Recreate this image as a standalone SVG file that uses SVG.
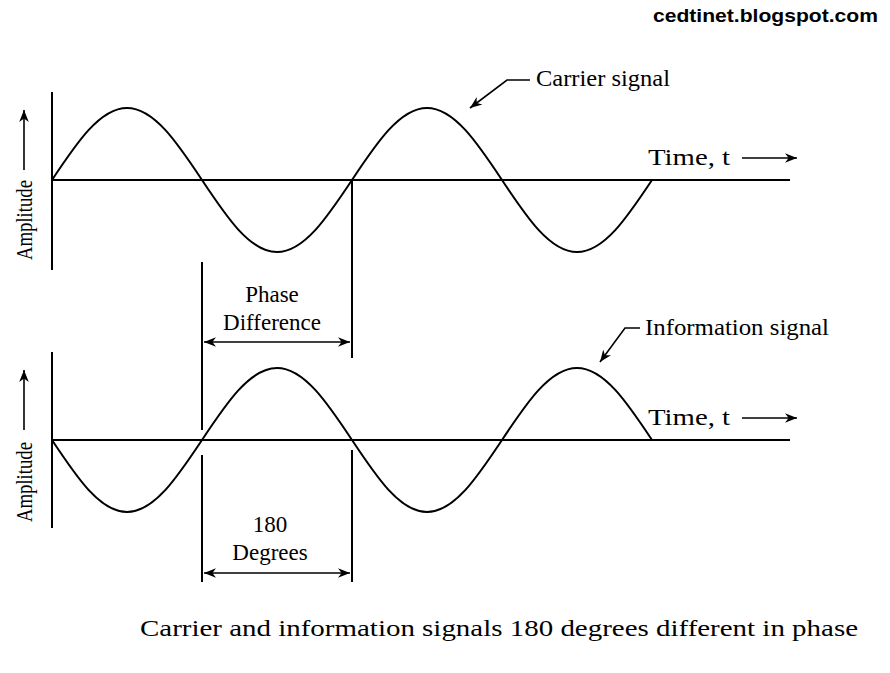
<svg xmlns="http://www.w3.org/2000/svg" width="890" height="673" viewBox="0 0 890 673">
<defs>
<marker id="ah" viewBox="0 0 10 10" refX="10" refY="5" markerWidth="12" markerHeight="12" markerUnits="userSpaceOnUse" orient="auto-start-reverse"><path d="M0,1 L10,5 L0,9 L3,5 Z" fill="#000"/></marker>
</defs>
<style>
.l{stroke:#000;stroke-width:2;fill:none}
.t{font-family:"Liberation Serif",serif;font-size:23px;fill:#000}
</style>
<rect width="890" height="673" fill="#fff"/>
<text x="653" y="22" textLength="225" lengthAdjust="spacingAndGlyphs" style="font-family:'Liberation Sans',sans-serif;font-weight:bold;font-size:18px">cedtinet.blogspot.com</text>
<g id="top-wave">
<path class="l" d="M52,92 V270 M52,180 H790"/>
<path class="l" d="M52,180 c24.5,-36.9 47.9,-72 75,-72 s50.5,35.1 75,72 s47.9,72 75,72 s50.5,-35.1 75,-72 s47.9,-72 75,-72 s50.5,35.1 75,72 s47.9,72 75,72 s50.5,-35.1 75,-72"/>
<text class="t" transform="translate(32,260) rotate(-90)" textLength="80" lengthAdjust="spacingAndGlyphs">Amplitude</text>
<path class="l" d="M24,170 V110" marker-end="url(#ah)" style="stroke-width:1.6"/>
<text class="t" x="648" y="165" textLength="82" lengthAdjust="spacingAndGlyphs">Time, t</text>
<path class="l" d="M742,158 H797" marker-end="url(#ah)" style="stroke-width:1.6"/>
<text class="t" x="536" y="86" textLength="134" lengthAdjust="spacingAndGlyphs">Carrier signal</text>
<path class="l" d="M530,80 H507 L470,108" marker-end="url(#ah)" style="stroke-width:1.6"/>
</g>
<g id="bottom-wave">
<path class="l" d="M52,352 V528 M52,440 H790"/>
<path class="l" d="M52,440 c24.5,36.9 47.9,72 75,72 s50.5,-35.1 75,-72 s47.9,-72 75,-72 s50.5,35.1 75,72 s47.9,72 75,72 s50.5,-35.1 75,-72 s47.9,-72 75,-72 s50.5,35.1 75,72"/>
<text class="t" transform="translate(32,522) rotate(-90)" textLength="80" lengthAdjust="spacingAndGlyphs">Amplitude</text>
<path class="l" d="M24,430 V370" marker-end="url(#ah)" style="stroke-width:1.6"/>
<text class="t" x="648" y="425" textLength="82" lengthAdjust="spacingAndGlyphs">Time, t</text>
<path class="l" d="M742,418 H797" marker-end="url(#ah)" style="stroke-width:1.6"/>
<text class="t" x="645" y="335" textLength="184" lengthAdjust="spacingAndGlyphs">Information signal</text>
<path class="l" d="M640,328 H625 L600,362" marker-end="url(#ah)" style="stroke-width:1.6"/>
</g>
<g id="connectors">
<path class="l" d="M202,262 V430 M352,180 V358 M202,455 V582 M352,450 V582"/>
<path class="l" d="M204,342 H350" marker-start="url(#ah)" marker-end="url(#ah)" style="stroke-width:1.6"/>
<path class="l" d="M204,573 H350" marker-start="url(#ah)" marker-end="url(#ah)" style="stroke-width:1.6"/>
<text class="t" x="272" y="302" text-anchor="middle">Phase</text>
<text class="t" x="272" y="330" text-anchor="middle">Difference</text>
<text class="t" x="270" y="532" text-anchor="middle">180</text>
<text class="t" x="270" y="560" text-anchor="middle">Degrees</text>
</g>
<text class="t" x="140" y="636" textLength="718" lengthAdjust="spacingAndGlyphs" style="font-size:24px">Carrier and information signals 180 degrees different in phase</text>
</svg>
